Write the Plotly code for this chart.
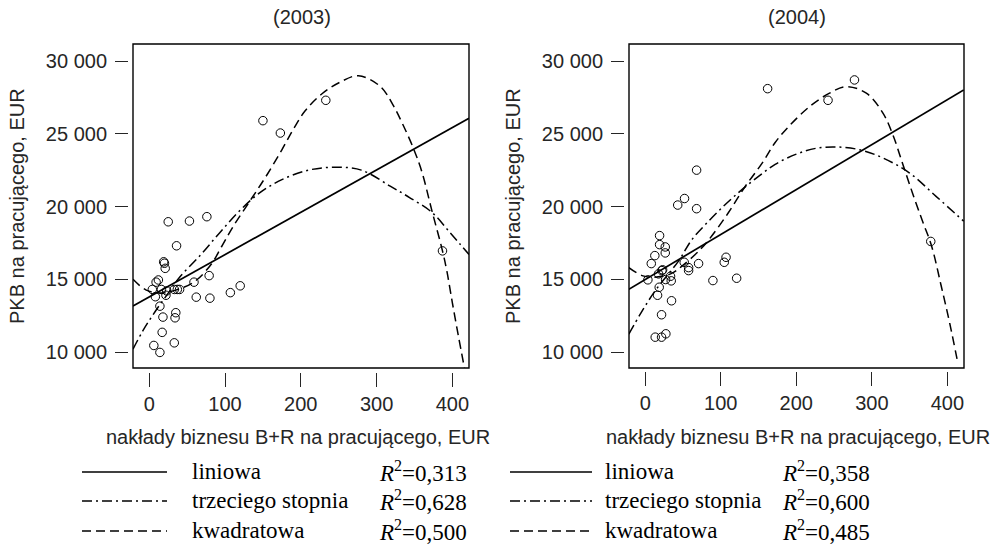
import plotly.graph_objects as go

W, H = 996, 549

# ---------------- data: 2003 ----------------
x03 = [150, 233, 173, 387, 25, 53, 76, 36, 19, 20, 21, 79, 12, 9, 59,
       4, 16, 23, 33, 37, 40, 8, 22, 62, 80, 107, 120, 14, 18, 35, 34, 17,
       6, 14, 33]
y03 = [25900, 27300, 25050, 16950, 18950, 19000, 19300, 17300, 16200, 16100, 15750, 15250, 14950, 14800, 14800,
       14300, 14300, 14200, 14300, 14300, 14300, 13800, 13900, 13770, 13700, 14080, 14550, 13150, 12400, 12700, 12350, 11350,
       10450, 9970, 10630]

lin03_x = [-21.5, 422]
lin03_y = [13160, 26060]

dd03_x = [-21.5, -8, 8, 25, 40, 67, 93, 120, 146, 175, 210, 245, 280, 318, 344, 373, 397, 422]
dd03_y = [10200, 11500, 12800, 14050, 15140, 16630, 18200, 19750, 20950, 21850, 22500, 22700, 22500, 21400, 20600, 19600, 18200, 16700]

da03_x = [-21.5, -4, 15, 35, 60, 82, 95, 111, 135, 155, 175, 190, 206, 228, 252, 276, 305, 322, 335, 349, 360, 373, 387, 393, 400, 408, 416]
da03_y = [15000, 14250, 14050, 14250, 14850, 16050, 17200, 18650, 20550, 22150, 23900, 25300, 26600, 27750, 28550, 28990, 28250, 26950, 25600, 23950, 22350, 19720, 16950, 15500, 13400, 11100, 8900]

# ---------------- data: 2004 ----------------
x04 = [162, 277, 242, 378, 68, 43, 52, 68, 19, 19, 26.5, 26.5, 12.7, 8, 51.6, 70.6, 57.4, 57.4, 107, 104.6,
       22, 23, 17.6, 33.5, 3.5, 27, 34.4, 89.6, 121, 18.5, 16.3, 34.8, 21.6, 13.2, 21.6, 27.3]
y04 = [28100, 28700, 27300, 17600, 22500, 20100, 20550, 19850, 18000, 17380, 17220, 16810, 16625, 16077, 16166, 16077, 15800, 15596, 16510, 16166,
       15596, 15650, 15370, 15206, 14960, 14980, 14890, 14910, 15070, 14450, 13900, 13520, 12560, 11020, 11020, 11250]

lin04_x = [-21.7, 421.6]
lin04_y = [14315, 28014]

dd04_x = [-21.7, -6.6, 13, 44, 62, 84, 106, 128, 150, 172, 200, 226, 253, 284, 315, 350, 385, 421.6]
dd04_y = [11230, 12600, 14200, 16250, 17740, 19000, 20140, 21160, 22070, 22900, 23600, 24000, 24090, 23900, 23330, 22300, 20700, 18990]

da04_x = [-21.7, -3, 15, 35, 48.5, 73, 88, 110, 132.5, 155, 172, 190, 217.6, 244, 266, 292.7, 314.7, 328, 341, 354, 367, 379, 392, 403, 414]
da04_y = [15800, 15230, 15150, 15400, 15900, 17050, 17970, 19570, 21390, 23000, 24400, 25500, 26870, 27790, 28240, 27790, 26420, 24900, 22900, 20900, 19000, 17300, 14500, 12000, 9200]

# ---------------- ticks / text ----------------
xticks = [0, 100, 200, 300, 400]
yticks = [10000, 15000, 20000, 25000, 30000]
yticktext = ["10 000", "15 000", "20 000", "25 000", "30 000"]
titles = ["(2003)", "(2004)"]
ytitle = "PKB na pracującego, EUR"
xtitle = "nakłady biznesu B+R na pracującego, EUR"
leg_names = ["liniowa", "trzeciego stopnia", "kwadratowa"]
r2_03 = ["0,313", "0,628", "0,500"]
r2_04 = ["0,358", "0,600", "0,485"]

XR = [-21.5, 422]
YR = [8900, 31170]

def fx(px):
    return px / W

def fy(py):
    return 1 - py / H

SANS = "Liberation Sans, Arial, sans-serif"
SERIF = "Liberation Serif, Times New Roman, serif"
TXT = "#262626"

fig = go.Figure()

DASH = "9px,5px"
DASHDOT = "10px,4px,2px,4px"

def add_panel(xs, ys, lx, ly, ddx, ddy, dax, day, xa, ya):
    fig.add_trace(go.Scatter(x=lx, y=ly, mode="lines", line=dict(color="black", width=1.7),
                             xaxis=xa, yaxis=ya, showlegend=False, hoverinfo="skip"))
    fig.add_trace(go.Scatter(x=ddx, y=ddy, mode="lines", line=dict(color="black", width=1.5, dash=DASHDOT, shape="spline"),
                             xaxis=xa, yaxis=ya, showlegend=False, hoverinfo="skip"))
    fig.add_trace(go.Scatter(x=dax, y=day, mode="lines", line=dict(color="black", width=1.5, dash=DASH, shape="spline"),
                             xaxis=xa, yaxis=ya, showlegend=False, hoverinfo="skip"))
    fig.add_trace(go.Scatter(x=xs, y=ys, mode="markers",
                             marker=dict(symbol="circle-open", size=8.5, color="black", line=dict(width=1)),
                             xaxis=xa, yaxis=ya, showlegend=False))

add_panel(x03, y03, lin03_x, lin03_y, dd03_x, dd03_y, da03_x, da03_y, "x", "y")
add_panel(x04, y04, lin04_x, lin04_y, dd04_x, dd04_y, da04_x, da04_y, "x2", "y2")

ydom = [fy(368), fy(44)]
xaxis_common = dict(range=XR, tickvals=xticks, ticks="outside", ticklen=14, tickwidth=1.2, tickcolor=TXT,
                    showline=False, showgrid=False, zeroline=False, anchor="free",
                    tickfont=dict(family=SANS, size=20, color=TXT), ticklabelstandoff=0)
yaxis_common = dict(range=YR, tickvals=yticks, ticktext=yticktext, ticks="outside", ticklen=13, tickwidth=1.2,
                    tickcolor=TXT, showline=False, showgrid=False, zeroline=False, anchor="free", domain=ydom,
                    tickfont=dict(family=SANS, size=20, color=TXT), ticklabelstandoff=4)

fig.update_layout(
    width=W, height=H, margin=dict(l=0, r=0, t=0, b=0),
    paper_bgcolor="white", plot_bgcolor="white",
    xaxis=dict(domain=[fx(133), fx(469)], position=fy(372), **xaxis_common),
    xaxis2=dict(domain=[fx(629), fx(964)], position=fy(371), **xaxis_common),
    yaxis=dict(position=fx(128), **yaxis_common),
    yaxis2=dict(position=fx(624), **yaxis_common),
)

# plot boxes
for xr, yr in (("x domain", "y domain"), ("x2 domain", "y2 domain")):
    fig.add_shape(type="rect", xref=xr, yref=yr, x0=0, x1=1, y0=0, y1=1,
                  line=dict(color="black", width=1.4), fillcolor="rgba(0,0,0,0)")

ann = []
for t, cx in zip(titles, (302, 797)):
    ann.append(dict(text=t, x=fx(cx), y=fy(17), xref="paper", yref="paper", showarrow=False,
                    xanchor="center", yanchor="middle", font=dict(family=SANS, size=20, color=TXT)))
for cx in (17, 513):
    ann.append(dict(text=ytitle, x=fx(cx), y=fy(206), xref="paper", yref="paper", showarrow=False,
                    textangle=-90, xanchor="center", yanchor="middle", font=dict(family=SANS, size=20, color=TXT)))
for cx in (298, 798):
    ann.append(dict(text=xtitle, x=fx(cx), y=fy(437), xref="paper", yref="paper", showarrow=False,
                    xanchor="center", yanchor="middle", font=dict(family=SANS, size=20, color=TXT)))

# legends (line samples + text)
rows = [472, 501, 531]
dashes = ["solid", DASHDOT, DASH]
for (lx0, lx1, tx, rx, r2) in ((82, 167, 190, 377, r2_03), (510, 592, 603, 780, r2_04)):
    for ry, d, name, r in zip(rows, dashes, leg_names, r2):
        fig.add_shape(type="line", xref="paper", yref="paper", x0=fx(lx0), x1=fx(lx1), y0=fy(ry), y1=fy(ry),
                      line=dict(color="black", width=1.4, dash=d))
        ann.append(dict(text=name, x=fx(tx), y=fy(ry - 1), xref="paper", yref="paper", showarrow=False,
                        xanchor="left", yanchor="middle", font=dict(family=SERIF, size=23, color="black")))
        ann.append(dict(text="<i>R</i><sup>2</sup>=" + r, x=fx(rx), y=fy(ry - 1), xref="paper", yref="paper",
                        showarrow=False, xanchor="left", yanchor="middle",
                        font=dict(family=SERIF, size=23, color="black")))

fig.update_layout(annotations=ann)
fig.write_html("out.html")
